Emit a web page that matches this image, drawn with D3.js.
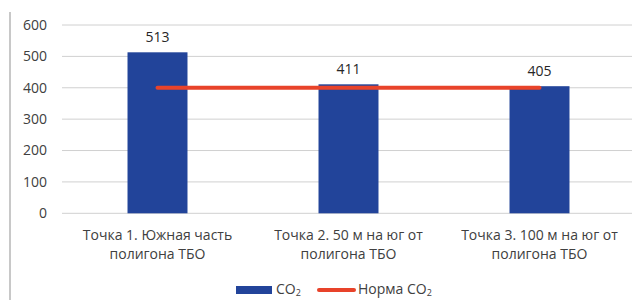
<!DOCTYPE html>
<html>
<head>
<meta charset="utf-8">
<script src="https://cdn.jsdelivr.net/npm/d3@7"></script>
<style>
  body { margin: 0; background: #fff; }
  svg { font-family: "Open Sans", Lato, sans-serif; }
</style>
</head>
<body>
<div id="chart"></div>
<script>
// chart data
const categories = [
    ["Точка 1. Южная часть", "полигона ТБО"],
    ["Точка 2. 50 м на юг от", "полигона ТБО"],
    ["Точка 3. 100 м на юг от", "полигона ТБО"]
];
const co2Values = [513, 411, 405];
const normValues = [400, 400, 400];
const yTicks = [0, 100, 200, 300, 400, 500, 600];

const width = 632,
    height = 300;

const svg = d3.select("#chart")
    .append("svg")
    .attr("width", width)
    .attr("height", height);

// left border of the figure
svg.append("line")
    .attr("x1", 10).attr("x2", 10)
    .attr("y1", 12).attr("y2", height)
    .attr("stroke", "#c8c8c8")
    .attr("stroke-width", 2);

const x = d3.scaleBand()
    .domain(d3.range(categories.length))
    .range([62, 635])
    .paddingInner(0.686)
    .paddingOuter(0.343);

const y = d3.scaleLinear()
    .domain([0, 600])
    .range([213.3, 25]);

// gridlines
svg.selectAll(".grid")
    .data(yTicks)
    .join("line")
    .attr("x1", 62)
    .attr("x2", width)
    .attr("y1", d => y(d))
    .attr("y2", d => y(d))
    .attr("stroke", "#d0d0d0")
    .attr("stroke-width", 1);

// y tick labels
svg.selectAll(".ytick")
    .data(yTicks)
    .join("text")
    .attr("x", 47)
    .attr("y", d => y(d))
    .attr("dy", "0.35em")
    .attr("text-anchor", "end")
    .attr("fill", "#404040")
    .style("font-size", "14px")
    .text(d => d);

// bars
svg.selectAll(".bar")
    .data(co2Values)
    .join("rect")
    .attr("x", (d, i) => x(i))
    .attr("y", d => y(d))
    .attr("width", x.bandwidth())
    .attr("height", d => y(0) - y(d))
    .attr("fill", "#22449a");

// value labels
svg.selectAll(".val")
    .data(co2Values)
    .join("text")
    .attr("x", (d, i) => x(i) + x.bandwidth() / 2)
    .attr("y", d => y(d) - 10)
    .attr("text-anchor", "middle")
    .attr("fill", "#262626")
    .style("font-size", "14px")
    .text(d => d);

// norm line
const line = d3.line()
    .x((d, i) => x(i) + x.bandwidth() / 2)
    .y(d => y(d));

svg.append("path")
    .datum(normValues)
    .attr("d", line)
    .attr("fill", "none")
    .attr("stroke", "#e8432a")
    .attr("stroke-width", 4)
    .attr("stroke-linecap", "round");

// category labels
const catLabels = svg.selectAll(".cat")
    .data(categories)
    .join("text")
    .attr("x", (d, i) => x(i) + x.bandwidth() / 2)
    .attr("y", 240)
    .attr("text-anchor", "middle")
    .attr("fill", "#404040")
    .style("font-size", "14px");

catLabels.selectAll("tspan")
    .data(d => d)
    .join("tspan")
    .attr("x", function () { return this.parentNode.getAttribute("x"); })
    .attr("dy", (d, i) => i === 0 ? 0 : 19)
    .text(d => d);

// legend
const legend = svg.append("g");

legend.append("rect")
    .attr("x", 236)
    .attr("y", 286)
    .attr("width", 36)
    .attr("height", 8)
    .attr("fill", "#22449a");

const t1 = legend.append("text")
    .attr("x", 276)
    .attr("y", 294)
    .attr("fill", "#404040")
    .style("font-size", "14px");
t1.append("tspan").text("CO");
t1.append("tspan").attr("dy", 2).style("font-size", "9px").text("2");

legend.append("line")
    .attr("x1", 319).attr("x2", 354)
    .attr("y1", 290).attr("y2", 290)
    .attr("stroke", "#e8432a")
    .attr("stroke-width", 4)
    .attr("stroke-linecap", "round");

const t2 = legend.append("text")
    .attr("x", 358)
    .attr("y", 294)
    .attr("fill", "#404040")
    .style("font-size", "14px");
t2.append("tspan").text("Норма CO");
t2.append("tspan").attr("dy", 2).style("font-size", "9px").text("2");
</script>
</body>
</html>
